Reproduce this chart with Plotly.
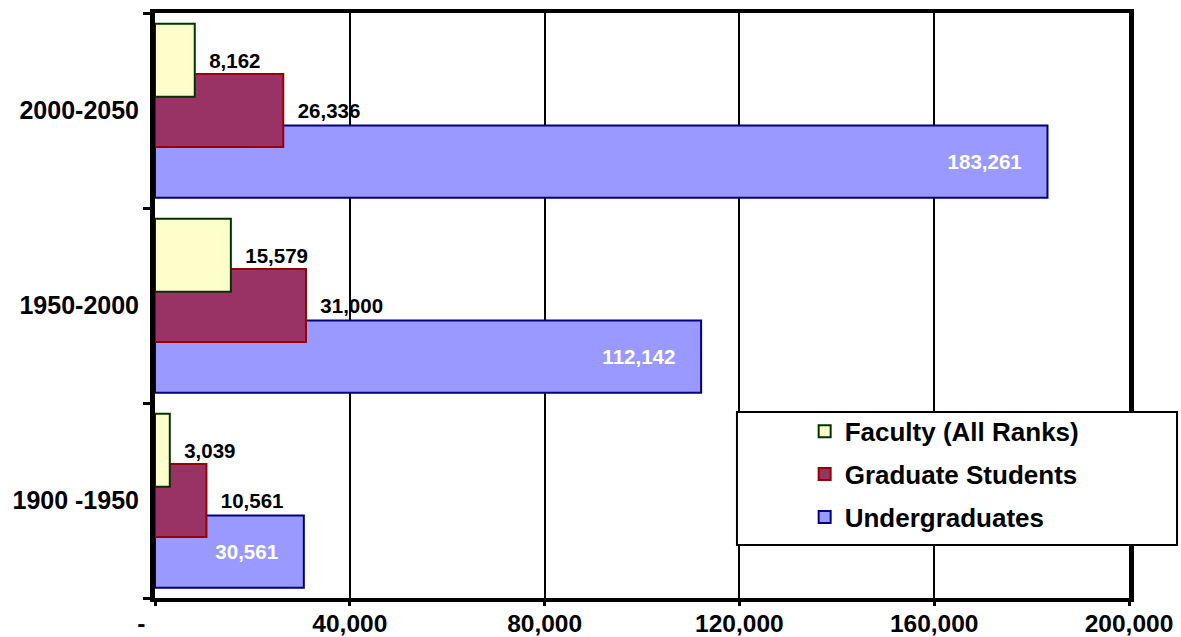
import plotly.graph_objects as go

categories = ["1900 -1950", "1950-2000", "2000-2050"]
faculty = [3039, 15579, 8162]
graduate = [10561, 31000, 26336]
undergrad = [30561, 112142, 183261]

series_names = ["Faculty (All Ranks)", "Graduate Students", "Undergraduates"]
x_tickvals = [0, 40000, 80000, 120000, 160000, 200000]
x_ticktext = ["-\u00a0\u00a0\u00a0\u00a0", "40,000", "80,000", "120,000", "160,000", "200,000"]

FONT = "Arial, 'Liberation Sans', sans-serif"
NB = "\u00a0"

fig = go.Figure()

# drawn first -> at back
fig.add_trace(go.Bar(
    y=categories, x=undergrad, orientation="h", name=series_names[2],
    marker=dict(color="#9999FF", line=dict(color="#000080", width=2)),
    offset=-0.4475, width=0.37,
    texttemplate="%{x:,}" + NB * 4, textposition="inside", insidetextanchor="end",
    textfont=dict(color="white", size=20.5, family=FONT, weight="bold"),
    constraintext="none", legendgroup="c", legendrank=3,
))
fig.add_trace(go.Bar(
    y=categories, x=graduate, orientation="h", name=series_names[1],
    marker=dict(color="#993366", line=dict(color="#990000", width=2)),
    offset=-0.1875, width=0.375,
    texttemplate=NB * 2 + "%{x:,}", textposition="outside",
    textfont=dict(color="black", size=20.5, family=FONT, weight="bold"),
    constraintext="none", cliponaxis=False, legendgroup="b", legendrank=2,
))
fig.add_trace(go.Bar(
    y=categories, x=faculty, orientation="h", name=series_names[0],
    marker=dict(color="#FFFFCC", line=dict(color="#003300", width=2)),
    offset=0.07, width=0.375,
    texttemplate=NB * 2 + "%{x:,}", textposition="outside",
    textfont=dict(color="black", size=20.5, family=FONT, weight="bold"),
    constraintext="none", cliponaxis=False, legendgroup="a", legendrank=1,
))

fig.update_layout(
    width=1181, height=637,
    margin=dict(l=155, r=52, t=13, b=39, autoexpand=False),
    paper_bgcolor="white", plot_bgcolor="white",
    barmode="overlay",
    font=dict(family=FONT, color="black", weight="bold"),
    showlegend=True,
    legend=dict(
        x=0.667, y=0.325, xanchor="left", yanchor="top",
        bgcolor="rgba(0,0,0,0)", borderwidth=0,
        font=dict(size=26, family=FONT, color="black", weight="bold"),
        traceorder="grouped", tracegroupgap=6,
    ),
    xaxis=dict(
        range=[0, 200000], tickvals=x_tickvals, ticktext=x_ticktext,
        showgrid=True, gridcolor="black", gridwidth=2, zeroline=False,
        showline=True, linecolor="black", linewidth=4, mirror=True,
        ticks="outside", ticklen=4, tickwidth=3, tickcolor="black",
        tickfont=dict(size=24.5, family=FONT, weight="bold"), automargin=False,
        ticklabelstandoff=-3,
    ),
    yaxis=dict(
        type="category", categoryorder="array", categoryarray=categories,
        showgrid=False, zeroline=False,
        showline=True, linecolor="black", linewidth=5, mirror=True,
        ticks="outside", tickson="boundaries", ticklen=7, tickwidth=3, tickcolor="black",
        tickfont=dict(size=25, family=FONT, weight="bold"), ticklabelstandoff=6,
        automargin=False,
    ),
    shapes=[dict(
        type="rect", xref="paper", yref="paper",
        x0=0.5975, x1=1.0493, y0=0.0906, y1=0.318,
        line=dict(color="black", width=2), fillcolor="white", layer="above",
    )],
)

fig.write_html(
    "out.html",
    config={"displayModeBar": False},
    post_script="document.body.style.margin='0';",
)
